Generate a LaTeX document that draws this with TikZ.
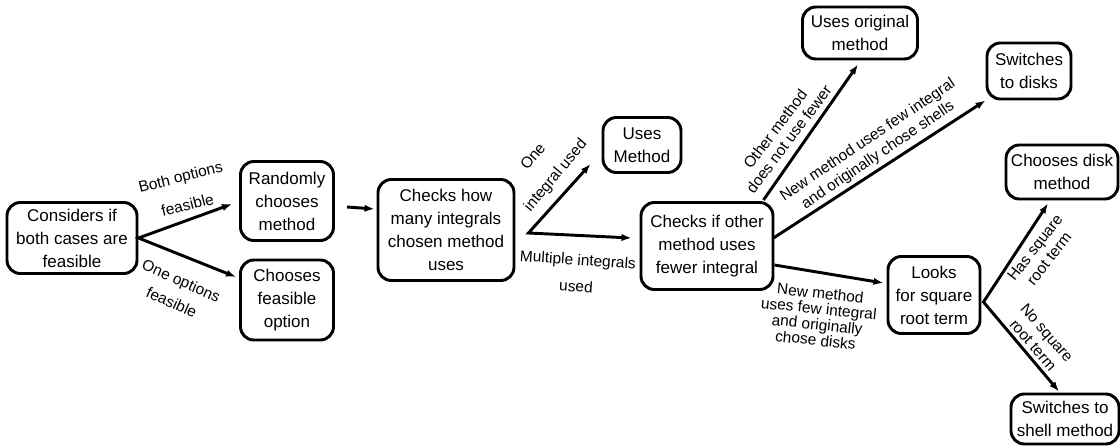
\documentclass[tikz,border=0pt]{standalone}
\usepackage{fontspec}
\setmainfont{Liberation Sans}
\usetikzlibrary{arrows.meta,calc}
\newcommand\lblf[1]{\fontsize{11.6}{#1}\selectfont}
\newcommand\boxf{\fontsize{12.75}{17.25}\selectfont}
\begin{document}
\begin{tikzpicture}[x=0.75pt,y=-0.75pt,
  box/.style={draw, line width=2.2pt, rounded corners=10pt, align=center, font=\boxf, inner sep=0pt},
  arr/.style={line width=2.2pt, -{Latex[length=7.5pt,width=5.5pt]}},
  arrr/.style={line width=2.2pt, {Latex[length=7.5pt,width=5.5pt]}-{Latex[length=7.5pt,width=5.5pt]}},
  lbl/.style={align=center, inner sep=0pt}]
\useasboundingbox (0,0) rectangle (1120,446);
% nodes
\node[box, minimum width=97.5pt, minimum height=53.25pt] (n1) at (72,238) {Considers if\\both cases are\\feasible};
\node[box, minimum width=69.75pt, minimum height=59.25pt] (n2) at (287,201) {Randomly\\chooses\\method};
\node[box, minimum width=69.75pt, minimum height=60pt] (n3) at (287,300) {Chooses\\feasible\\option};
\node[box, minimum width=102pt, minimum height=75.75pt] (n4) at (446,230) {Checks how\\many integrals\\chosen method\\uses};
\node[box, minimum width=58.5pt, minimum height=41.25pt] (n5) at (642,145) {Uses\\Method};
\node[box, minimum width=99pt, minimum height=65.25pt] (n6) at (707,246) {Checks if other\\method uses\\fewer integral};
\node[box, minimum width=86.25pt, minimum height=39pt] (n7) at (860,33) {Uses original\\method};
\node[box, minimum width=63pt, minimum height=42pt] (n8) at (1029,71) {Switches\\to disks};
\node[box, minimum width=84pt, minimum height=40.5pt] (n9) at (1062,172) {Chooses disk\\method};
\node[box, minimum width=69pt, minimum height=57.75pt] (n10) at (934,295) {Looks\\for square\\root term};
\node[box, minimum width=81pt, minimum height=37.5pt] (n11) at (1065,419) {Switches to\\shell method};
% branch points
\coordinate (b4) at ($(n4.east)+(13,3)$);
\coordinate (b10) at ($(n10.east)+(2,7)$);
% connectors
\draw[arrr] ($(n2.west)+(-7,3)$) -- (n1.east) -- ($(n3.west)+(-3,-23)$);
\draw[arr] ($(n2.east)+(12,6)$) -- ($(n4.west)+(-2,-21)$);
\draw[arrr] ($(n5.south west)+(-11,-10)$) -- (b4) -- ($(n6.west)+(-8,-8)$);
\draw[arr] ($(n6.north east)+(-11,-1)$) -- ($(n7.south)+(-2,4)$);
\draw[arr] ($(n6.east)+(-1,-8)$) -- (n8.south west);
\draw[arr] ($(n6.east)+(0,19)$) -- ($(n10.west)+(-3,-12)$);
\draw[arrr] ($(n9.south)+(-14,3)$) -- (b10) -- ($(n11.north)+(-6,-1)$);
% labels
\node[lbl, rotate=14, font=\lblf{21.75pt}] (l1) at (184,191) {Both options\\feasible};
\node[lbl, rotate=-24, font=\lblf{17.7pt}] (l2) at (176.5,291.5) {One options\\feasible};
\node[lbl, rotate=50, font=\lblf{21.75pt}] (l3) at (545,166.5) {One\\integral used};
\node[lbl, rotate=-4, font=\lblf{20.25pt}] (l4) at (577,273) {Multiple integrals\\used};
\node[lbl, rotate=53, font=\lblf{12.75pt}] (l5) at (782,134) {Other method\\does not use fewer};
\node[lbl, rotate=34, font=\lblf{13.7pt}] (l6) at (873,148) {New method uses few integral\\and originally chose shells};
\node[lbl, rotate=-6, font=\lblf{11.8pt}] (l7) at (818,316.5) {New method\\uses few integral\\and originally\\chose disks};
\node[lbl, rotate=52, font=\lblf{13.5pt}] (l8) at (1042,253) {Has square\\root term};
\node[lbl, rotate=-49, font=\lblf{13.7pt}] (l9) at (1040,339) {No square\\root term};
\end{tikzpicture}
\end{document}
